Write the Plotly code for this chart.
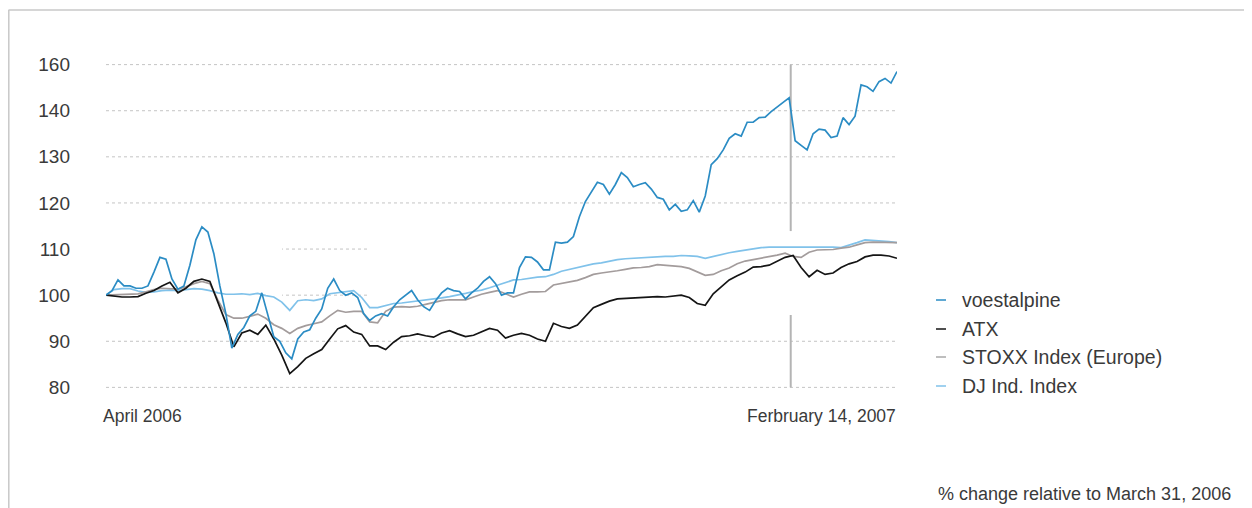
import pandas as pd
import plotly.graph_objects as go

START = "2006-03-31"
END = "2007-02-14"
MARK_DATE = "2007-01-02"

series_names = ["voestalpine", "ATX", "STOXX Index (Europe)", "DJ Ind. Index"]
series_colors = ["#2b8cc4", "#151515", "#a39c9c", "#80c2ea"]
legend_colors = ["#2b8cc4", "#151515", "#a8a8a8", "#80c2ea"]

voestalpine = [
    100, 101, 103.3, 102, 102, 101.5, 101.5, 102, 105, 108.2,
    107.8, 103.5, 101.3, 102, 106.5, 112, 114.8, 113.7, 109, 102,
    96, 88.5, 91.5, 93, 95.5, 96.5, 100.5, 96, 91, 90,
    87.5, 86.2, 90.5, 92, 92.5, 95, 97, 101.5, 103.5, 101,
    100, 100.5, 99.5, 96, 94.5, 95.5, 96, 95.5, 97.5, 99,
    100, 101, 99, 97.5, 96.7, 98.8, 100.5, 101.5, 101, 100.8,
    99.2, 100.5, 101.5, 103, 104, 102.5, 100, 100.5, 100.5, 106,
    108.3, 108.2, 107.2, 105.5, 105.5, 111.5, 111.3, 111.5, 112.7, 117,
    120.3, 122.3, 124.5, 124, 121.9, 124, 126.6, 125.5, 123.5, 124,
    124.4, 123, 121.2, 120.8, 118.5, 119.7, 118.2, 118.5, 120.5, 118,
    121.5, 128.3, 129.6, 131.5, 134, 135, 134.5, 137.5, 137.5, 138.5,
    138.6, 139.8, 140.9, 141.8, 142.8, 133.5, 132.5, 131.5, 135, 136,
    135.8, 134.2, 134.5, 138.5, 137, 138.8, 145.6, 145.2, 144.2, 146.3,
    147, 146, 148.5,
]

atx = [
    100, 99.8, 99.6, 99.6, 99.7, 100.4, 101, 102, 102.8, 100.5,
    101.5, 103, 103.5, 103, 98.5, 94, 88.8, 91.8, 92.4, 91.5,
    93.5, 90.5, 87, 83, 84.5, 86.3, 87.3, 88.2, 90.5, 92.7,
    93.4, 92, 91.5, 89, 89, 88.2, 89.8, 91, 91.2, 91.6,
    91.2, 90.9, 91.8, 92.3, 91.6, 91, 91.3, 92, 92.8, 92.4,
    90.7, 91.3, 91.7, 91.3, 90.5, 90, 93.9, 93.2, 92.8, 93.5,
    95.5, 97.3, 98, 98.7, 99.2, 99.3, 99.4, 99.5, 99.6, 99.7,
    99.6, 99.8, 100, 99.5, 98.2, 97.8, 100.3, 101.8, 103.3, 104.2,
    105, 106.1, 106.2, 106.5, 107.3, 108.2, 108.6, 106, 104, 105.4,
    104.5, 104.8, 106, 106.8, 107.3, 108.3, 108.7, 108.7, 108.5, 108,
]

stoxx = [
    100, 100.1, 100.2, 100.2, 100.3, 100.7, 101.2, 101.5, 101.4, 101.3,
    101.8, 102.5, 103, 102.5, 99, 95.8, 95, 95, 95.4, 95.9,
    95, 93.6, 92.8, 91.7, 92.8, 93.4, 93.8, 94.2, 95.5, 96.7,
    96.3, 96.5, 96.5, 94.2, 94, 96.5, 97.4, 97.5, 97.4, 97.6,
    98, 98.4, 98.8, 99, 99, 99, 99.6, 100.2, 100.6, 101,
    100.3, 99.6, 100.2, 100.7, 100.7, 100.8, 102.2, 102.5, 102.9, 103.2,
    103.8, 104.5, 104.8, 105, 105.3, 105.6, 105.9, 106, 106.2, 106.6,
    106.5, 106.4, 106.2, 105.8, 105, 104.3, 104.5, 105.3, 105.9, 106.8,
    107.4, 107.7, 108, 108.4, 108.7, 109.1, 108.4, 108.2, 109.3, 109.8,
    109.8, 109.9, 110.2, 110.4, 110.9, 111.4, 111.5, 111.5, 111.5, 111.4,
]

dj = [
    100, 101.2, 101.4, 101.4, 100.9, 100.6, 100.7, 101, 101.1, 101,
    101.2, 101.4, 101.3, 101, 100.5, 100.2, 100.2, 100.3, 100.1, 100.4,
    99.9, 99.6, 98.5, 96.7, 98.8, 99, 98.8, 99.2, 100.3, 100.5,
    100.7, 101, 99.5, 97.3, 97.3, 97.8, 98.2, 98.3, 98.5, 98.8,
    99, 99.2, 99.4, 99.7, 100, 100.4, 100.8, 101.1, 101.6, 102.2,
    102.8, 103.3, 103.4, 103.7, 103.9, 104, 104.5, 105.2, 105.6, 105.9,
    106.3, 106.8, 107, 107.4, 107.7, 107.9, 108, 108.2, 108.3, 108.3,
    108.4, 108.4, 108.6, 108.5, 108.4, 108, 108.4, 108.9, 109.2, 109.5,
    109.8, 110.1, 110.3, 110.4, 110.4, 110.5, 110.4, 110.4, 110.5, 110.4,
    110.5, 110.4, 110.3, 110.8, 111.4, 112, 111.9, 111.7, 111.6, 111.4,
]

y_tickvals = [80, 90, 100, 110, 120, 130, 140, 150]
y_ticktext = ["80", "90", "100", "110", "120", "130", "140", "160"]
x_label_start = "April 2006"
x_label_end = "Ferbruary 14, 2007"
footnote = "% change relative to March 31, 2006"

FONT = "Liberation Sans, Arial, sans-serif"
TXT = "#3a3a3a"

all_values = [voestalpine, atx, stoxx, dj]

fig = go.Figure()
draw_order = [3, 2, 1, 0]
for k in draw_order:
    vals = all_values[k]
    dates = pd.date_range(START, END, periods=len(vals))
    fig.add_trace(go.Scatter(
        x=dates, y=vals, mode="lines", name=series_names[k],
        line=dict(color=series_colors[k], width=1.7),
        showlegend=False, hoverinfo="skip",
    ))

# page has an 8px body margin; figure sized to fit the window
W, H = 1244, 500
L, R, T, B = 98, 355, 52, 116
PW, PH = 791, 332
# helpers mapping screenshot pixels to paper coordinates
def px(x):
    return (x - 106) / PW
def py(y):
    return (392 - y) / PH

PATCH_LO, PATCH_HI = 95.7, 113.9

shapes = []
# dashed gridlines
for v in y_tickvals:
    shapes.append(dict(type="line", xref="paper", yref="y", x0=0, x1=1, y0=v, y1=v,
                       line=dict(color="#c4c4c4", width=1, dash="3px,3px"), layer="below"))
# white patches hiding gridlines (as in the reference)
shapes.append(dict(type="rect", xref="paper", yref="y", x0=px(100), x1=px(282),
                   y0=PATCH_LO, y1=PATCH_HI, fillcolor="white", line=dict(width=0), layer="below"))
shapes.append(dict(type="rect", xref="paper", yref="y", x0=px(370), x1=px(905),
                   y0=PATCH_LO, y1=PATCH_HI, fillcolor="white", line=dict(width=0), layer="below"))
# vertical marker line (interrupted by the patch)
for y0, y1 in [(80, PATCH_LO), (PATCH_HI, 150)]:
    shapes.append(dict(type="line", xref="x", yref="y", x0=MARK_DATE, x1=MARK_DATE,
                       y0=y0, y1=y1, line=dict(color="#b4b4b4", width=2), layer="below"))
# frame lines
shapes.append(dict(type="line", xref="paper", yref="paper", x0=px(8.5), x1=px(1260),
                   y0=py(10), y1=py(10), line=dict(color="#c8c8c8", width=1.5)))
shapes.append(dict(type="line", xref="paper", yref="paper", x0=px(8.8), x1=px(8.8),
                   y0=py(10), y1=py(520), line=dict(color="#c8c8c8", width=1.5)))

annotations = []
legend_y = [300, 329, 357, 386]
for name, col, yy in zip(series_names, legend_colors, legend_y):
    shapes.append(dict(type="line", xref="paper", yref="paper", x0=px(936), x1=px(946),
                       y0=py(yy), y1=py(yy), line=dict(color=col, width=1.5)))
    annotations.append(dict(text=name, xref="paper", yref="paper", x=px(960), y=py(yy),
                            xanchor="left", yanchor="middle", showarrow=False,
                            font=dict(family=FONT, size=19.5, color=TXT)))

annotations.append(dict(text=x_label_start, xref="paper", yref="paper", x=px(101), y=py(416),
                        xanchor="left", yanchor="middle", showarrow=False,
                        font=dict(family=FONT, size=17.5, color=TXT)))
annotations.append(dict(text=x_label_end, xref="paper", yref="paper", x=px(898), y=py(416),
                        xanchor="right", yanchor="middle", showarrow=False,
                        font=dict(family=FONT, size=17.5, color=TXT)))
annotations.append(dict(text=footnote, xref="paper", yref="paper", x=px(1233), y=py(494),
                        xanchor="right", yanchor="middle", showarrow=False,
                        font=dict(family=FONT, size=18, color=TXT)))

fig.update_layout(
    width=W, height=H,
    margin=dict(l=L, r=R, t=T, b=B, pad=0),
    paper_bgcolor="white", plot_bgcolor="white",
    font=dict(family=FONT, color=TXT),
    shapes=shapes, annotations=annotations,
    showlegend=False,
    xaxis=dict(range=[START, END], showgrid=False, showticklabels=False,
               showline=False, zeroline=False, ticks=""),
    yaxis=dict(range=[79, 151], tickvals=y_tickvals, ticktext=y_ticktext,
               showgrid=False, zeroline=False, showline=False, ticks="",
               ticklabelstandoff=35, tickfont=dict(family=FONT, size=19, color=TXT)),
)

fig.write_html("out.html")
